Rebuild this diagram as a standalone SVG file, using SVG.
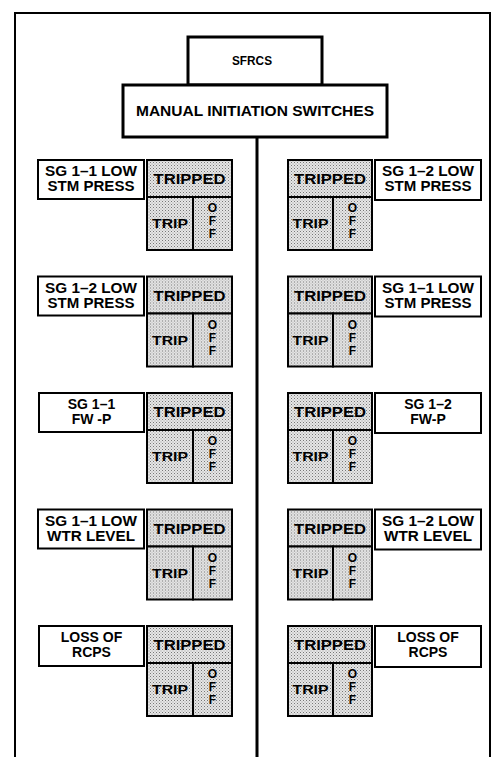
<svg xmlns="http://www.w3.org/2000/svg" width="494" height="757" viewBox="0 0 494 757">
<defs>
<pattern id="stip" width="3" height="3" patternUnits="userSpaceOnUse">
<rect width="3" height="3" fill="#e6e6e6"/>
<rect x="0" y="0" width="1" height="1" fill="#777"/>
<rect x="1.5" y="1.5" width="1" height="1" fill="#9a9a9a"/>
</pattern>
</defs>
<style>
text{font-family:"Liberation Sans",Arial,sans-serif;font-weight:bold;fill:#000;text-anchor:middle}
.lab{font-size:14px}
.tp{font-size:14px}
.tr{font-size:13px}
.of{font-size:12px}
.box{fill:#fff;stroke:#000;stroke-width:2}
.sh{fill:url(#stip);stroke:#000;stroke-width:2}
.hd{fill:#fff;stroke:#000;stroke-width:3}
.frame{fill:none;stroke:#000;stroke-width:2}
.conn{stroke:#000;stroke-width:3;fill:none}
</style>
<rect width="494" height="757" fill="#fff"/>
<path class="frame" d="M15,757 V13 H490 V757"/>
<g id="connectors">
<line class="conn" x1="257" y1="137" x2="257" y2="757"/>
</g>
<g id="sfrcs">
<rect class="hd" x="188" y="37" width="134" height="48"/>
<text x="252" y="65" font-size="13" textLength="40" lengthAdjust="spacingAndGlyphs">SFRCS</text>
</g>
<g id="manual">
<rect class="hd" x="123" y="85" width="264" height="52"/>
<text x="255" y="116" font-size="15" textLength="238" lengthAdjust="spacingAndGlyphs">MANUAL INITIATION SWITCHES</text>
</g>

<!-- Left column -->
<g id="L1-label" transform="translate(0,159)">
<rect class="box" x="38" y="1" width="106" height="39"/>
<text class="lab" x="91" y="17" textLength="92" lengthAdjust="spacingAndGlyphs">SG 1–1 LOW</text>
<text class="lab" x="91" y="32" textLength="87" lengthAdjust="spacingAndGlyphs">STM PRESS</text>
</g>
<g id="L1-switch" transform="translate(0,159)">
<rect class="sh" x="147" y="1" width="85" height="37"/>
<rect class="sh" x="147" y="38" width="46" height="53"/>
<rect class="sh" x="193" y="38" width="39" height="53"/>
<text class="tp" x="189.5" y="25" textLength="72" lengthAdjust="spacingAndGlyphs">TRIPPED</text>
<text class="tr" x="170" y="69" textLength="36" lengthAdjust="spacingAndGlyphs">TRIP</text>
<text class="of" x="212.5" y="53">O</text><text class="of" x="212.5" y="66">F</text><text class="of" x="212.5" y="79">F</text>
</g>

<g id="L2-label" transform="translate(0,275.5)">
<rect class="box" x="38" y="1" width="106" height="39"/>
<text class="lab" x="91" y="17" textLength="92" lengthAdjust="spacingAndGlyphs">SG 1–2 LOW</text>
<text class="lab" x="91" y="32" textLength="87" lengthAdjust="spacingAndGlyphs">STM PRESS</text>
</g>
<g id="L2-switch" transform="translate(0,275.5)">
<rect class="sh" x="147" y="1" width="85" height="37"/>
<rect class="sh" x="147" y="38" width="46" height="53"/>
<rect class="sh" x="193" y="38" width="39" height="53"/>
<text class="tp" x="189.5" y="25" textLength="72" lengthAdjust="spacingAndGlyphs">TRIPPED</text>
<text class="tr" x="170" y="69" textLength="36" lengthAdjust="spacingAndGlyphs">TRIP</text>
<text class="of" x="212.5" y="53">O</text><text class="of" x="212.5" y="66">F</text><text class="of" x="212.5" y="79">F</text>
</g>

<g id="L3-label" transform="translate(0,392)">
<rect class="box" x="39" y="1" width="105" height="39"/>
<text class="lab" x="91.5" y="17">SG 1–1</text>
<text class="lab" x="91.5" y="32">FW -P</text>
</g>
<g id="L3-switch" transform="translate(0,392)">
<rect class="sh" x="147" y="1" width="85" height="37"/>
<rect class="sh" x="147" y="38" width="46" height="53"/>
<rect class="sh" x="193" y="38" width="39" height="53"/>
<text class="tp" x="189.5" y="25" textLength="72" lengthAdjust="spacingAndGlyphs">TRIPPED</text>
<text class="tr" x="170" y="69" textLength="36" lengthAdjust="spacingAndGlyphs">TRIP</text>
<text class="of" x="212.5" y="53">O</text><text class="of" x="212.5" y="66">F</text><text class="of" x="212.5" y="79">F</text>
</g>

<g id="L4-label" transform="translate(0,508.5)">
<rect class="box" x="38" y="1" width="106" height="39"/>
<text class="lab" x="91" y="17" textLength="92" lengthAdjust="spacingAndGlyphs">SG 1–1 LOW</text>
<text class="lab" x="91" y="32" textLength="88" lengthAdjust="spacingAndGlyphs">WTR LEVEL</text>
</g>
<g id="L4-switch" transform="translate(0,508.5)">
<rect class="sh" x="147" y="1" width="85" height="37"/>
<rect class="sh" x="147" y="38" width="46" height="53"/>
<rect class="sh" x="193" y="38" width="39" height="53"/>
<text class="tp" x="189.5" y="25" textLength="72" lengthAdjust="spacingAndGlyphs">TRIPPED</text>
<text class="tr" x="170" y="69" textLength="36" lengthAdjust="spacingAndGlyphs">TRIP</text>
<text class="of" x="212.5" y="53">O</text><text class="of" x="212.5" y="66">F</text><text class="of" x="212.5" y="79">F</text>
</g>

<g id="L5-label" transform="translate(0,625)">
<rect class="box" x="39" y="1" width="105" height="40"/>
<text class="lab" x="91.5" y="17">LOSS OF</text>
<text class="lab" x="91.5" y="32">RCPS</text>
</g>
<g id="L5-switch" transform="translate(0,625)">
<rect class="sh" x="147" y="1" width="85" height="37"/>
<rect class="sh" x="147" y="38" width="46" height="53"/>
<rect class="sh" x="193" y="38" width="39" height="53"/>
<text class="tp" x="189.5" y="25" textLength="72" lengthAdjust="spacingAndGlyphs">TRIPPED</text>
<text class="tr" x="170" y="69" textLength="36" lengthAdjust="spacingAndGlyphs">TRIP</text>
<text class="of" x="212.5" y="53">O</text><text class="of" x="212.5" y="66">F</text><text class="of" x="212.5" y="79">F</text>
</g>

<!-- Right column -->
<g id="R1-switch" transform="translate(0,159)">
<rect class="sh" x="288" y="1" width="84" height="37"/>
<rect class="sh" x="288" y="38" width="45" height="53"/>
<rect class="sh" x="333" y="38" width="39" height="53"/>
<text class="tp" x="330" y="25" textLength="72" lengthAdjust="spacingAndGlyphs">TRIPPED</text>
<text class="tr" x="310.5" y="69" textLength="36" lengthAdjust="spacingAndGlyphs">TRIP</text>
<text class="of" x="352.5" y="53">O</text><text class="of" x="352.5" y="66">F</text><text class="of" x="352.5" y="79">F</text>
</g>
<g id="R1-label" transform="translate(0,159)">
<rect class="box" x="375" y="1" width="106" height="40"/>
<text class="lab" x="428" y="17" textLength="92" lengthAdjust="spacingAndGlyphs">SG 1–2 LOW</text>
<text class="lab" x="428" y="32" textLength="87" lengthAdjust="spacingAndGlyphs">STM PRESS</text>
</g>

<g id="R2-switch" transform="translate(0,275.5)">
<rect class="sh" x="288" y="1" width="84" height="37"/>
<rect class="sh" x="288" y="38" width="45" height="53"/>
<rect class="sh" x="333" y="38" width="39" height="53"/>
<text class="tp" x="330" y="25" textLength="72" lengthAdjust="spacingAndGlyphs">TRIPPED</text>
<text class="tr" x="310.5" y="69" textLength="36" lengthAdjust="spacingAndGlyphs">TRIP</text>
<text class="of" x="352.5" y="53">O</text><text class="of" x="352.5" y="66">F</text><text class="of" x="352.5" y="79">F</text>
</g>
<g id="R2-label" transform="translate(0,275.5)">
<rect class="box" x="375" y="1" width="106" height="40"/>
<text class="lab" x="428" y="17" textLength="92" lengthAdjust="spacingAndGlyphs">SG 1–1 LOW</text>
<text class="lab" x="428" y="32" textLength="87" lengthAdjust="spacingAndGlyphs">STM PRESS</text>
</g>

<g id="R3-switch" transform="translate(0,392)">
<rect class="sh" x="288" y="1" width="84" height="37"/>
<rect class="sh" x="288" y="38" width="45" height="53"/>
<rect class="sh" x="333" y="38" width="39" height="53"/>
<text class="tp" x="330" y="25" textLength="72" lengthAdjust="spacingAndGlyphs">TRIPPED</text>
<text class="tr" x="310.5" y="69" textLength="36" lengthAdjust="spacingAndGlyphs">TRIP</text>
<text class="of" x="352.5" y="53">O</text><text class="of" x="352.5" y="66">F</text><text class="of" x="352.5" y="79">F</text>
</g>
<g id="R3-label" transform="translate(0,392)">
<rect class="box" x="375" y="1" width="106" height="40"/>
<text class="lab" x="428" y="17">SG 1–2</text>
<text class="lab" x="428" y="32">FW-P</text>
</g>

<g id="R4-switch" transform="translate(0,508.5)">
<rect class="sh" x="288" y="1" width="84" height="37"/>
<rect class="sh" x="288" y="38" width="45" height="53"/>
<rect class="sh" x="333" y="38" width="39" height="53"/>
<text class="tp" x="330" y="25" textLength="72" lengthAdjust="spacingAndGlyphs">TRIPPED</text>
<text class="tr" x="310.5" y="69" textLength="36" lengthAdjust="spacingAndGlyphs">TRIP</text>
<text class="of" x="352.5" y="53">O</text><text class="of" x="352.5" y="66">F</text><text class="of" x="352.5" y="79">F</text>
</g>
<g id="R4-label" transform="translate(0,508.5)">
<rect class="box" x="375" y="1" width="106" height="40"/>
<text class="lab" x="428" y="17" textLength="92" lengthAdjust="spacingAndGlyphs">SG 1–2 LOW</text>
<text class="lab" x="428" y="32" textLength="88" lengthAdjust="spacingAndGlyphs">WTR LEVEL</text>
</g>

<g id="R5-switch" transform="translate(0,625)">
<rect class="sh" x="288" y="1" width="84" height="37"/>
<rect class="sh" x="288" y="38" width="45" height="53"/>
<rect class="sh" x="333" y="38" width="39" height="53"/>
<text class="tp" x="330" y="25" textLength="72" lengthAdjust="spacingAndGlyphs">TRIPPED</text>
<text class="tr" x="310.5" y="69" textLength="36" lengthAdjust="spacingAndGlyphs">TRIP</text>
<text class="of" x="352.5" y="53">O</text><text class="of" x="352.5" y="66">F</text><text class="of" x="352.5" y="79">F</text>
</g>
<g id="R5-label" transform="translate(0,625)">
<rect class="box" x="375" y="1" width="106" height="41"/>
<text class="lab" x="428" y="17">LOSS OF</text>
<text class="lab" x="428" y="32">RCPS</text>
</g>
</svg>
